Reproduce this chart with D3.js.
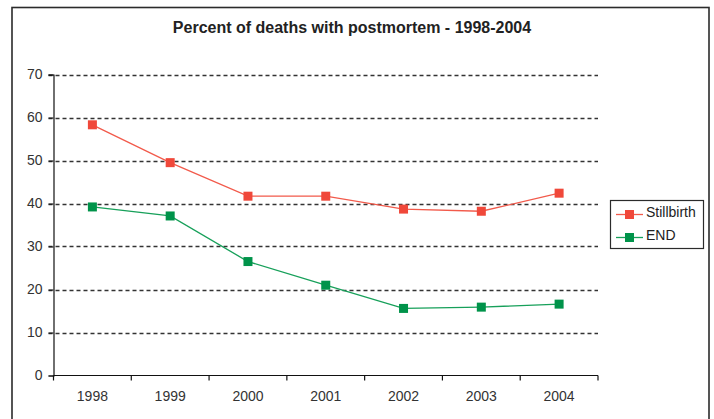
<!DOCTYPE html>
<html>
<head>
<meta charset="utf-8">
<script src="https://cdn.jsdelivr.net/npm/d3@7"></script>
<style>
  html, body { margin: 0; padding: 0; background: #fff; }
  svg { display: block; font-family: "Liberation Sans", Arial, sans-serif; }
</style>
</head>
<body>
<svg id="chart" width="714" height="419"></svg>
<script>
// Years on the category axis
const years = ["1998", "1999", "2000", "2001", "2002", "2003", "2004"];
// Percent of deaths with a postmortem, by year
const stillbirth = [58.3, 49.5, 41.7, 41.7, 38.7, 38.2, 42.4];
const endDeaths  = [39.2, 37.1, 26.5, 21.0, 15.6, 15.9, 16.6];
// Y axis ticks
const yTicks = [0, 10, 20, 30, 40, 50, 60, 70];
const seriesNames = ["Stillbirth", "END"];

const title = "Percent of deaths with postmortem - 1998-2004";

const svg = d3.select("#chart");

const plot = { left: 53.5, right: 598, top: 74.5, bottom: 375.5 };
const redMark = "#f0483a", redLine = "#f25a4b";
const greenMark = "#00934a", greenLine = "#17a05a";

// Outer chart frame
svg.append("rect")
  .attr("x", 12).attr("y", 7.5)
  .attr("width", 697).attr("height", 430)
  .attr("fill", "none").attr("stroke", "#2b2b2b").attr("stroke-width", 1.6);

// Title
svg.append("text")
  .attr("x", 352).attr("y", 33)
  .attr("text-anchor", "middle")
  .attr("font-size", 16).attr("font-weight", "bold").attr("fill", "#222")
  .text(title);

const x = d3.scaleBand().domain(years).range([plot.left, plot.right]);
const y = d3.scaleLinear().domain([0, 70]).range([plot.bottom, plot.top]);

// Dashed horizontal gridlines
svg.append("g")
  .selectAll("line")
  .data(yTicks.filter(d => d > 0))
  .join("line")
  .attr("x1", plot.left - 5).attr("x2", plot.right)
  .attr("y1", d => Math.round(y(d)) + 0.5).attr("y2", d => Math.round(y(d)) + 0.5)
  .attr("stroke", "#333").attr("stroke-width", 1.3)
  .attr("stroke-dasharray", "4,3");

// Y axis
const yAxis = svg.append("g")
  .attr("transform", `translate(${plot.left},0)`)
  .call(d3.axisLeft(y).tickValues(yTicks).tickSize(5).tickPadding(6).tickFormat(d3.format("d")));
yAxis.select(".domain").attr("stroke", "#111").attr("stroke-width", 1.2);
yAxis.selectAll(".tick line").attr("stroke", "#111");
yAxis.selectAll("text").attr("font-size", 14).attr("fill", "#333")
  .attr("font-family", "'Liberation Sans', Arial, sans-serif");

// X axis with ticks between categories
const xAxisG = svg.append("g")
  .attr("transform", `translate(0,${plot.bottom})`);
xAxisG.append("line")
  .attr("x1", plot.left).attr("x2", plot.right)
  .attr("stroke", "#111").attr("stroke-width", 1.2);
const bounds = years.map(d => x(d)).concat([plot.right]);
xAxisG.selectAll("line.tk")
  .data(bounds)
  .join("line").attr("class", "tk")
  .attr("x1", d => d).attr("x2", d => d)
  .attr("y1", 0).attr("y2", 5)
  .attr("stroke", "#111").attr("stroke-width", 1.2);
xAxisG.selectAll("text")
  .data(years)
  .join("text")
  .attr("x", d => x(d) + x.bandwidth() / 2)
  .attr("y", 25)
  .attr("text-anchor", "middle")
  .attr("font-size", 14).attr("fill", "#333")
  .text(d => d);

const cx = d => x(d) + x.bandwidth() / 2;
const line = d3.line().x((d, i) => cx(years[i])).y(d => y(d));

function drawSeries(values, lineColor, markColor) {
  svg.append("path")
    .datum(values)
    .attr("d", line)
    .attr("fill", "none").attr("stroke", lineColor).attr("stroke-width", 1.3);
  svg.append("g").selectAll("rect")
    .data(values)
    .join("rect")
    .attr("x", (d, i) => cx(years[i]) - 4.5)
    .attr("y", d => y(d) - 4.5)
    .attr("width", 9).attr("height", 9)
    .attr("fill", markColor);
}
drawSeries(stillbirth, redLine, redMark);
drawSeries(endDeaths, greenLine, greenMark);

// Legend
const legend = svg.append("g");
legend.append("rect")
  .attr("x", 610.5).attr("y", 200.5).attr("width", 93).attr("height", 48)
  .attr("fill", "#fff").attr("stroke", "#2b2b2b").attr("stroke-width", 1.2);
const legendItems = [
  { name: seriesNames[0], lc: redLine, mc: redMark, y: 214.5 },
  { name: seriesNames[1], lc: greenLine, mc: greenMark, y: 237.5 }
];
legendItems.forEach(it => {
  legend.append("line")
    .attr("x1", 616).attr("x2", 643).attr("y1", it.y).attr("y2", it.y)
    .attr("stroke", it.lc).attr("stroke-width", 1.3);
  legend.append("rect")
    .attr("x", 629.5 - 4.5).attr("y", it.y - 4.5).attr("width", 9).attr("height", 9)
    .attr("fill", it.mc);
  legend.append("text")
    .attr("x", 646).attr("y", it.y - 1)
    .attr("dominant-baseline", "middle")
    .attr("font-size", 14).attr("fill", "#222")
    .text(it.name);
});
</script>
</body>
</html>
